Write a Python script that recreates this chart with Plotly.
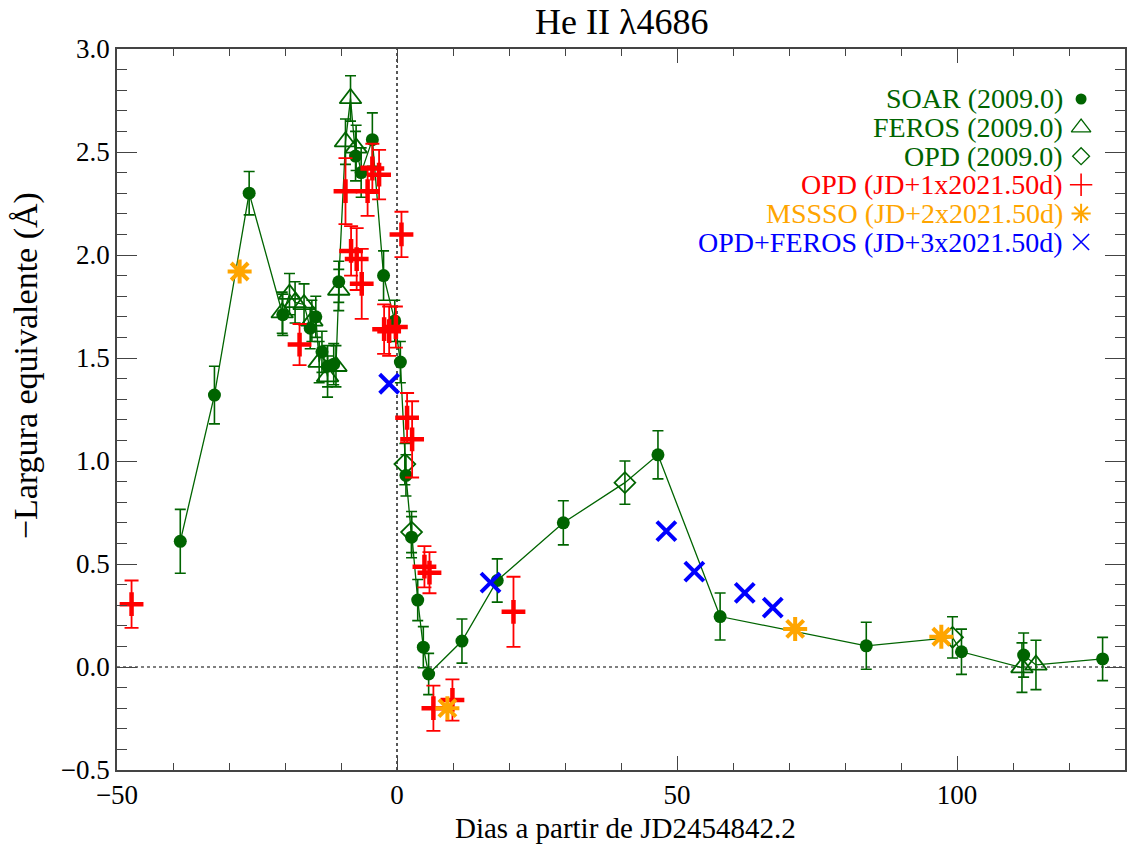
import plotly.graph_objects as go

# ---- He II 4686 equivalent width, 2009.0 cycle and folded earlier cycles ----
# SOAR (2009.0)
soar_x = [-38.7, -32.6, -26.4, -20.4, -15.5, -14.5, -13.4, -12.4, -11.3, -10.4,
          -7.4, -6.4, -4.4, -2.4, -0.4, 0.6, 1.6, 2.6, 3.7, 4.7,
          5.65, 11.6, 17.9, 29.7, 46.6, 57.7, 83.8, 100.8, 111.9, 126.0]
soar_y = [0.61, 1.32, 2.30, 1.71, 1.645, 1.70, 1.53, 1.46, 1.47, 1.87,
          2.48, 2.40, 2.56, 1.90, 1.68, 1.48, 0.93, 0.63, 0.325, 0.096,
          -0.034, 0.126, 0.42, 0.70, 1.03, 0.245, 0.103, 0.074, 0.058, 0.039]
soar_err = [0.155, 0.14, 0.105, 0.10, 0.10, 0.10, 0.10, 0.10, 0.10, 0.10,
            0.12, 0.12, 0.13, 0.12, 0.10, 0.10, 0.10, 0.10, 0.10, 0.10,
            0.10, 0.107, 0.105, 0.107, 0.117, 0.114, 0.114, 0.11, 0.107, 0.105]

# FEROS (2009.0)
feros_x = [-20.5, -19.2, -18.2, -16.6, -15.2, -13.9, -12.4, -10.9, -10.4,
           -9.2, -8.3, -7.3, 111.6, 114.1]
feros_y = [1.72, 1.81, 1.77, 1.76, 1.68, 1.48, 1.41, 1.46, 1.83,
           2.55, 2.76, 2.52, -0.003, 0.01]
feros_err = [0.10, 0.10, 0.10, 0.10, 0.10, 0.10, 0.10, 0.10, 0.10,
             0.11, 0.11, 0.11, 0.12, 0.12]

# OPD (2009.0)
opd09_x = [1.4, 2.6, 40.7, 99.2]
opd09_y = [0.985, 0.655, 0.895, 0.144]
opd09_err = [0.10, 0.10, 0.105, 0.10]

# OPD (JD + 1 x 2021.50 d)
opd1_x = [-47.4, -17.4, -9.2, -8.2, -7.2, -6.3, -5.25, -4.4, -3.2, -2.3,
          -1.4, -0.2, 0.8, 1.8, 2.7, 4.9, 5.8, 6.5, 9.9, 20.8]
opd1_y = [0.305, 1.565, 2.31, 2.02, 1.98, 1.86, 2.31, 2.42, 2.39, 1.64,
          1.63, 1.65, 2.10, 1.21, 1.105, 0.487, 0.458, -0.20, -0.16, 0.268]
opd1_err = [0.115, 0.10, 0.16, 0.12, 0.15, 0.17, 0.12, 0.12, 0.12, 0.12,
            0.12, 0.10, 0.11, 0.12, 0.185, 0.10, 0.10, 0.11, 0.10, 0.17]

# MSSSO (JD + 2 x 2021.50 d)
mssso_x = [-28.1, 9.0, 71.1, 97.2]
mssso_y = [1.92, -0.20, 0.185, 0.147]

# OPD+FEROS (JD + 3 x 2021.50 d)
opdf_x = [-1.4, 16.7, 48.1, 53.1, 62.1, 67.1]
opdf_y = [1.375, 0.41, 0.66, 0.463, 0.36, 0.288]

x_ticks = [-50, 0, 50, 100]
y_ticks = [-0.5, 0.0, 0.5, 1.0, 1.5, 2.0, 2.5, 3.0]

GREEN = "#006400"
RED = "#ff0000"
ORANGE = "#ffa500"
BLUE = "#0000ff"
FONT = "Liberation Serif"

fig = go.Figure()

# reference lines at x = 0 and y = 0
fig.add_trace(go.Scatter(x=[0, 0], y=[-0.5, 3.0], mode="lines",
                         line=dict(color="#222", width=1.5, dash="dot"),
                         showlegend=False, hoverinfo="skip"))
fig.add_trace(go.Scatter(x=[-50, 130], y=[0, 0], mode="lines",
                         line=dict(color="#555", width=1.5, dash="dot"),
                         showlegend=False, hoverinfo="skip"))

# 2009.0 light curve: all green points joined in time order
pts = sorted(zip(soar_x + feros_x + opd09_x, soar_y + feros_y + opd09_y))
fig.add_trace(go.Scatter(x=[p[0] for p in pts], y=[p[1] for p in pts],
                         mode="lines", line=dict(color=GREEN, width=1.3),
                         showlegend=False, hoverinfo="skip"))

def err(arr, color, width=5.5, thick=1.6):
    return dict(type="data", array=arr, color=color, thickness=thick, width=width)

fig.add_trace(go.Scatter(x=soar_x, y=soar_y, mode="markers",
                         marker=dict(symbol="circle", size=13, color=GREEN),
                         error_y=err(soar_err, GREEN), showlegend=False))
fig.add_trace(go.Scatter(x=feros_x, y=feros_y, mode="markers",
                         marker=dict(symbol="triangle-up-open", size=19, color=GREEN,
                                     line=dict(color=GREEN, width=1.8)),
                         error_y=err(feros_err, GREEN), showlegend=False))
fig.add_trace(go.Scatter(x=opd09_x, y=opd09_y, mode="markers",
                         marker=dict(symbol="diamond-open", size=16, color=GREEN,
                                     line=dict(color=GREEN, width=1.8)),
                         error_y=err(opd09_err, GREEN), showlegend=False))
fig.add_trace(go.Scatter(x=opd1_x, y=opd1_y, mode="markers",
                         marker=dict(symbol="cross-thin-open", size=17, color=RED,
                                     line=dict(color=RED, width=4.5)),
                         error_y=err(opd1_err, RED, width=7, thick=1.8), showlegend=False))
fig.add_trace(go.Scatter(x=mssso_x, y=mssso_y, mode="markers",
                         marker=dict(symbol="asterisk-open", size=20, color=ORANGE,
                                     line=dict(color=ORANGE, width=4)),
                         showlegend=False))
fig.add_trace(go.Scatter(x=opdf_x, y=opdf_y, mode="markers",
                         marker=dict(symbol="x-thin-open", size=19, color=BLUE,
                                     line=dict(color=BLUE, width=4)),
                         showlegend=False))

# key: text on the left, symbol on the right, one row per data set
key_labels = ["SOAR (2009.0)", "FEROS (2009.0)", "OPD (2009.0)",
              "OPD (JD+1x2021.50d)", "MSSSO (JD+2x2021.50d)", "OPD+FEROS (JD+3x2021.50d)"]
key_colors = [GREEN, GREEN, GREEN, RED, ORANGE, BLUE]
key_symbols = ["circle", "triangle-up-open", "diamond-open", "cross-thin-open",
               "asterisk-open", "x-thin-open"]
key_sizes = [11, 17, 13, 16, 16, 16]
key_lw = [0, 1.3, 1.3, 1.6, 2.0, 1.6]

plot_l, plot_r, plot_t, plot_b = 117, 1127, 49, 770
pw, ph = plot_r - plot_l, plot_b - plot_t
row0, row_step = 99, 28.6
key_text_x = (1067 - plot_l) / pw
key_sym_x = (1083 - plot_l) / pw

for i, (lab, col, sym, sz, lw) in enumerate(zip(key_labels, key_colors, key_symbols, key_sizes, key_lw)):
    yp = (plot_b - (row0 + i * row_step)) / ph
    fig.add_annotation(x=key_text_x, y=yp, xref="paper", yref="paper", text=lab,
                       showarrow=False, xanchor="right", yanchor="middle",
                       font=dict(family=FONT, size=28, color=col))
    fig.add_trace(go.Scatter(x=[key_sym_x], y=[yp], xaxis="x2", yaxis="y2", mode="markers",
                             marker=dict(symbol=sym, size=sz, color=col,
                                         line=dict(color=col, width=lw)),
                             showlegend=False, hoverinfo="skip"))

# titles
fig.add_annotation(x=0.5, y=(plot_t - 22) / ph + 1.0, xref="paper", yref="paper",
                   text="He II λ4686", showarrow=False, xanchor="center", yanchor="middle",
                   font=dict(family=FONT, size=36, color="black"))
fig.add_annotation(x=(627 - plot_l) / pw, y=-(828 - plot_b) / ph, xref="paper", yref="paper",
                   text="Dias a partir de JD2454842.2", showarrow=False,
                   xanchor="center", yanchor="middle",
                   font=dict(family=FONT, size=29, color="black"))
fig.add_annotation(x=-(plot_l - 26) / pw, y=(plot_b - 366) / ph, xref="paper", yref="paper",
                   text="−Largura equivalente (Å)", showarrow=False, textangle=-90,
                   xanchor="center", yanchor="middle",
                   font=dict(family=FONT, size=34, color="black"))

axis_common = dict(showline=True, linecolor="#444", linewidth=1.5, mirror="ticks",
                   ticks="inside", tickcolor="#444", tickwidth=1.3,
                   showgrid=False, zeroline=False,
                   tickfont=dict(family=FONT, size=27, color="black"))

fig.update_layout(
    width=1128, height=846,
    margin=dict(l=plot_l, r=1128 - plot_r, t=plot_t, b=846 - plot_b),
    paper_bgcolor="white", plot_bgcolor="white",
    showlegend=False,
    xaxis=dict(range=[-50, 130], tickvals=x_ticks, ticklen=14,
               minor=dict(dtick=10, ticklen=7, ticks="inside", tickcolor="#444", tickwidth=1.3),
               **axis_common),
    yaxis=dict(range=[-0.5, 3.0], tickvals=y_ticks, tickformat=".1f", ticklen=20,
               minor=dict(dtick=0.1, ticklen=10, ticks="inside", tickcolor="#444", tickwidth=1.3),
               **axis_common),
    xaxis2=dict(overlaying="x", range=[0, 1], visible=False),
    yaxis2=dict(overlaying="y", range=[0, 1], visible=False),
)

fig.write_html("out.html")
